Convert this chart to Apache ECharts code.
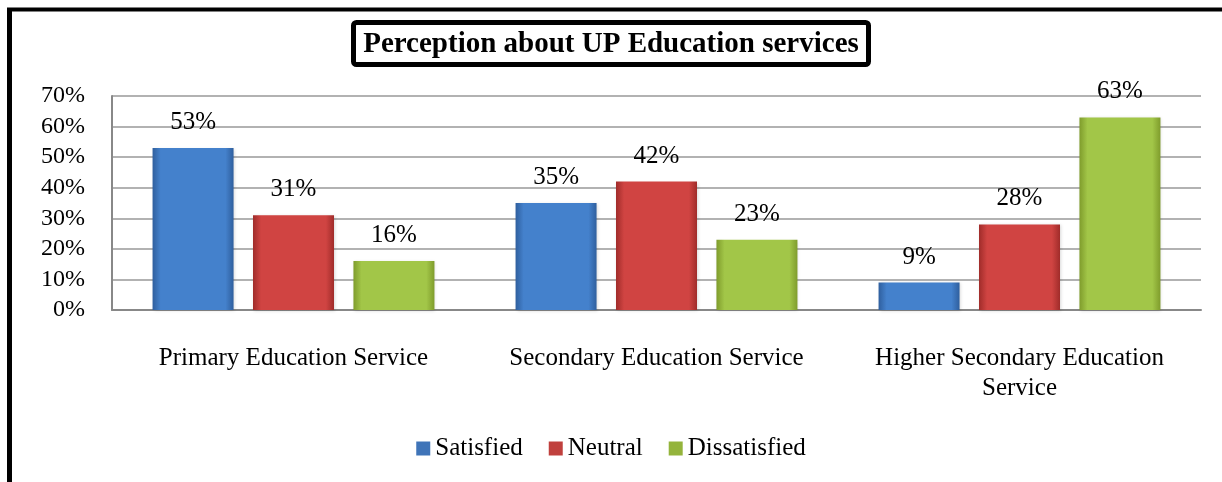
<!DOCTYPE html>
<html>
<head>
<meta charset="utf-8">
<script src="https://cdn.jsdelivr.net/npm/echarts@6/dist/echarts.min.js"></script>
<style>
html,body{margin:0;padding:0;background:#fff;}
#c{width:1222px;height:482px;}
</style>
</head>
<body>
<div id="c"></div>
<script>
const categories = ['Primary Education Service', 'Secondary Education Service', 'Higher Secondary Education\nService'];
const satisfied = [53, 35, 9];
const neutral = [31, 42, 28];
const dissatisfied = [16, 23, 63];
const yTicks = [0, 10, 20, 30, 40, 50, 60, 70];
const seriesNames = ['Satisfied', 'Neutral', 'Dissatisfied'];

const FONT = '"Liberation Serif", "Times New Roman", serif';

function grad(edge, mid) {
  return new echarts.graphic.LinearGradient(0, 0, 1, 0, [
    {offset: 0, color: edge},
    {offset: 0.1, color: mid},
    {offset: 0.9, color: mid},
    {offset: 1, color: edge}
  ]);
}
const colors = [
  grad('#2f5f9e', '#4481cc'),
  grad('#a02c2a', '#d04442'),
  grad('#7f9c2c', '#a2c648')
];
const legendColors = ['#3f74b8', '#c0403d', '#94b43c'];

const chart = echarts.init(document.getElementById('c'));
const labelCfg = {
  show: true, position: 'top', distance: 13,
  fontFamily: FONT, fontSize: 25, color: '#000',
  formatter: p => p.value + '%'
};
const data = [satisfied, neutral, dissatisfied];
chart.setOption({
  animation: false,
  color: legendColors,
  textStyle: {fontFamily: FONT},
  title: {
    text: 'Perception about UP Education services',
    left: 'center',
    top: 22,
    padding: [8, 10, 6, 10],
    borderColor: '#000',
    borderWidth: 5,
    borderRadius: 3,
    textStyle: {fontFamily: FONT, fontWeight: 'bold', fontSize: 29, color: '#000'}
  },
  legend: {
    bottom: 16,
    left: 'center',
    itemWidth: 14,
    itemHeight: 14,
    itemGap: 26,
    icon: 'rect',
    textStyle: {fontFamily: 'Times New Roman', fontSize: 25, color: '#000'},
    data: seriesNames.map((n, i) => ({name: n, itemStyle: {color: legendColors[i]}}))
  },
  grid: {left: 112, right: 21, top: 96, bottom: 172, containLabel: false},
  xAxis: {
    type: 'category',
    data: categories,
    axisLine: {lineStyle: {color: '#888', width: 2}},
    axisTick: {show: false},
    axisLabel: {interval: 0, fontFamily: FONT, fontSize: 25, color: '#000', margin: 33, lineHeight: 30}
  },
  yAxis: {
    type: 'value',
    min: yTicks[0], max: yTicks[yTicks.length - 1], interval: 10,
    axisLine: {show: true, lineStyle: {color: '#888', width: 2}},
    axisTick: {show: false},
    splitLine: {lineStyle: {color: '#999', width: 1.5}},
    axisLabel: {fontFamily: FONT, fontSize: 24, color: '#000', margin: 27, formatter: v => v + '%'}
  },
  series: seriesNames.map((n, i) => ({
    name: n,
    type: 'bar',
    data: data[i],
    barWidth: 81,
    barGap: '24%',
    itemStyle: {color: colors[i], shadowColor: 'rgba(0,0,0,0.15)', shadowBlur: 3, shadowOffsetX: 1, shadowOffsetY: 1},
    label: labelCfg
  })),
  graphic: [
    {type: 'line', shape: {x1: 7, y1: 9.5, x2: 1222, y2: 9.5}, style: {stroke: '#000', lineWidth: 4}},
    {type: 'line', shape: {x1: 9.5, y1: 8, x2: 9.5, y2: 482}, style: {stroke: '#000', lineWidth: 5}}
  ]
});
</script>
</body>
</html>
